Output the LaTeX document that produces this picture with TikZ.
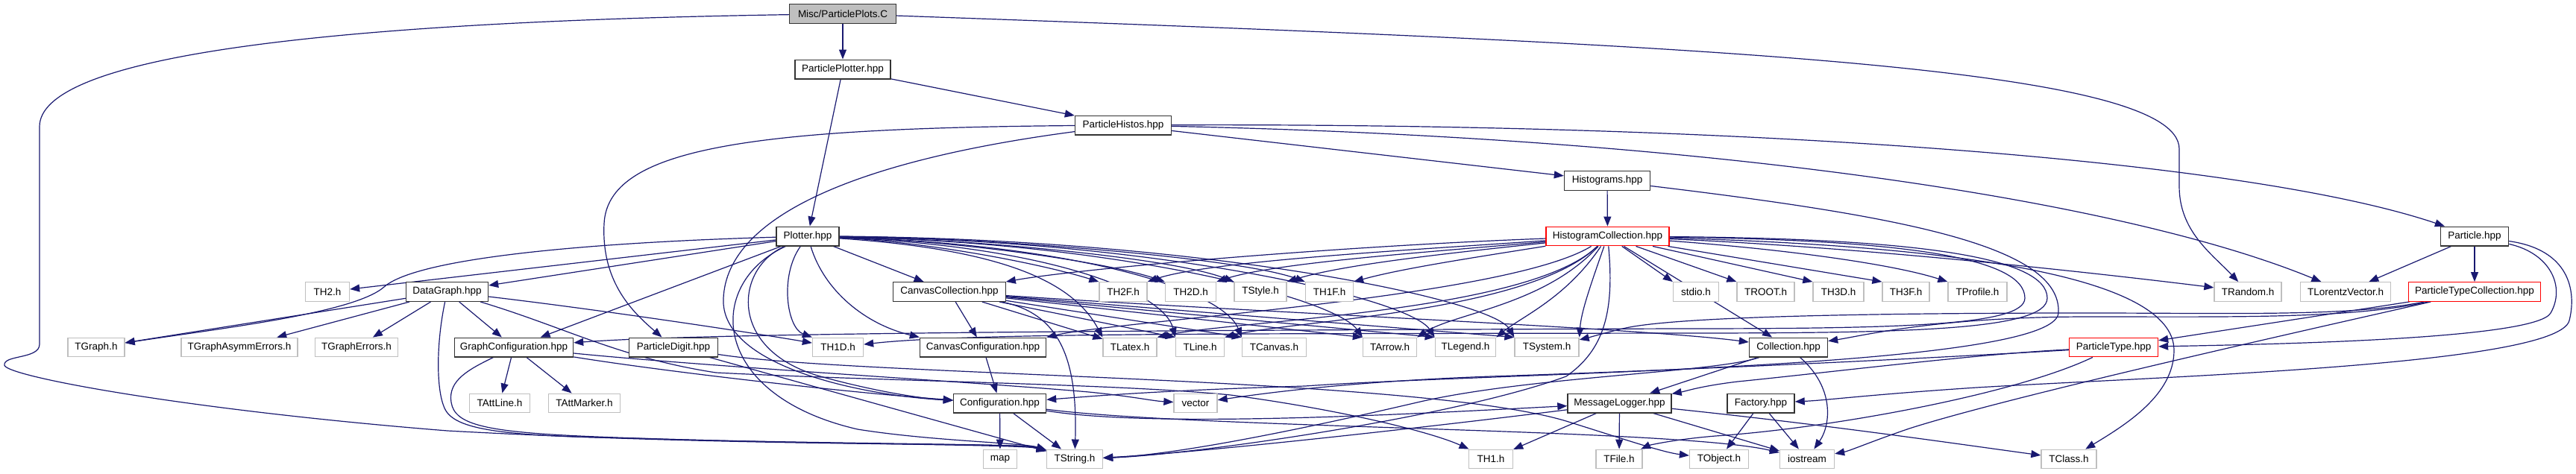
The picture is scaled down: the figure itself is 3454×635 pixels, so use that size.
\documentclass[tikz,border=0pt]{standalone}
\usepackage{fontspec}
\setmainfont{Liberation Sans}
\usetikzlibrary{arrows.meta}
\definecolor{edgeblue}{HTML}{191970}
\definecolor{leafgray}{HTML}{BFBFBF}
\definecolor{rootgray}{HTML}{BFBFBF}
\pgfdeclarelayer{background}
\pgfdeclarelayer{edgelayer}
\pgfsetlayers{background,edgelayer,main}
\tikzset{
  basebox/.style={rectangle, minimum height=25.6pt, inner xsep=3pt, inner ysep=0pt, fill=white, font=\fontsize{13.5}{16}\selectfont, text=black},
  hbox/.style={basebox, draw=black!80, line width=1.4pt},
  leaf/.style={basebox, draw=leafgray, line width=1.3pt},
  redbox/.style={basebox, draw=red, line width=1.3pt},
  rootbox/.style={basebox, draw=black!80, line width=1.4pt, fill=rootgray},
  conn/.style={draw=edgeblue, line width=1.2pt, -{Triangle[length=13pt,width=10pt]}},
}
\begin{document}
\begin{tikzpicture}[x=1pt,y=-1pt]
\useasboundingbox (0,0) rectangle (3454,635);
\begin{pgfonlayer}{background}\fill[white] (0,0) rectangle (3454,635);\end{pgfonlayer}
% rows 0-4
\node[rootbox, minimum width=143pt] (root) at (1130,18.5) {Misc/ParticlePlots.C};
\node[hbox, minimum width=128pt] (pplotter) at (1130,93) {ParticlePlotter.hpp};
\node[hbox, minimum width=129pt] (phistos) at (1506,168) {ParticleHistos.hpp};
\node[hbox, minimum width=115pt] (histograms) at (2155,242.5) {Histograms.hpp};
\node[hbox, minimum width=84pt] (plotter) at (1083,317) {Plotter.hpp};
\node[redbox, minimum width=165pt] (hcoll) at (2155.5,317) {HistogramCollection.hpp};
\node[hbox, minimum width=91pt] (particle) at (3318,317) {Particle.hpp};
% row 5
\node[leaf, minimum width=59pt] (th2) at (439,391.5) {TH2.h};
\node[hbox, minimum width=110pt] (datagraph) at (599.5,391.5) {DataGraph.hpp};
\node[hbox, minimum width=151pt] (ccoll) at (1273,391.5) {CanvasCollection.hpp};
\node[leaf, minimum width=64pt] (th2f) at (1506,391.5) {TH2F.h};
\node[leaf, minimum width=68pt] (th2d) at (1596.5,391.5) {TH2D.h};
\node[leaf, minimum width=70pt] (tstyle) at (1690,391.5) {TStyle.h};
\node[leaf, minimum width=64pt] (th1f) at (1782.5,391.5) {TH1F.h};
\node[leaf, minimum width=61pt] (stdio) at (2274,391.5) {stdio.h};
\node[leaf, minimum width=77pt] (troot) at (2367.5,391.5) {TROOT.h};
\node[leaf, minimum width=68pt] (th3d) at (2465,391.5) {TH3D.h};
\node[leaf, minimum width=63pt] (th3f) at (2555.5,391.5) {TH3F.h};
\node[leaf, minimum width=79pt] (tprofile) at (2651.5,391.5) {TProfile.h};
\node[leaf, minimum width=90pt] (trandom) at (3014,391.5) {TRandom.h};
\node[leaf, minimum width=121pt] (tlv) at (3145,391.5) {TLorentzVector.h};
\node[redbox, minimum width=177pt] (ptc) at (3318,391.5) {ParticleTypeCollection.hpp};
% row 6
\node[leaf, minimum width=76pt] (tgraph) at (129,466) {TGraph.h};
\node[leaf, minimum width=156pt] (tgae) at (321,466) {TGraphAsymmErrors.h};
\node[leaf, minimum width=111pt] (tge) at (478,466) {TGraphErrors.h};
\node[hbox, minimum width=159pt] (gconf) at (689,466) {GraphConfiguration.hpp};
\node[hbox, minimum width=119pt] (pdigit) at (903,466) {ParticleDigit.hpp};
\node[leaf, minimum width=68pt] (th1d) at (1123.5,466) {TH1D.h};
\node[hbox, minimum width=169pt] (cconf) at (1318,466) {CanvasConfiguration.hpp};
\node[leaf, minimum width=72pt] (tlatex) at (1515,466) {TLatex.h};
\node[leaf, minimum width=65pt] (tline) at (1609,466) {TLine.h};
\node[leaf, minimum width=86pt] (tcanvas) at (1708.5,466) {TCanvas.h};
\node[leaf, minimum width=72pt] (tarrow) at (1863.5,466) {TArrow.h};
\node[leaf, minimum width=81.5pt] (tlegend) at (1965,466) {TLegend.h};
\node[leaf, minimum width=86pt] (tsystem) at (2074,466) {TSystem.h};
\node[hbox, minimum width=105pt] (collection) at (2398,466) {Collection.hpp};
\node[redbox, minimum width=119pt] (ptype) at (2834,466) {ParticleType.hpp};
% row 7
\node[leaf, minimum width=81pt] (tattline) at (670,541) {TAttLine.h};
\node[leaf, minimum width=96pt] (tattmarker) at (783.5,541) {TAttMarker.h};
\node[hbox, minimum width=124pt] (config) at (1340.5,541) {Configuration.hpp};
\node[leaf, minimum width=58pt] (vector) at (1603,541) {vector};
\node[hbox, minimum width=139pt] (mlogger) at (2171.5,541) {MessageLogger.hpp};
\node[hbox, minimum width=90pt] (factory) at (2361,541) {Factory.hpp};
% row 8
\node[leaf, minimum width=45.5pt] (map) at (1341,616) {map};
\node[leaf, minimum width=75pt] (tstring) at (1441,616) {TString.h};
\node[leaf, minimum width=59pt] (th1) at (1999,616) {TH1.h};
\node[leaf, minimum width=62pt] (tfile) at (2171,616) {TFile.h};
\node[leaf, minimum width=79pt] (tobject) at (2305,616) {TObject.h};
\node[leaf, minimum width=73pt] (iostream) at (2423,616) {iostream};
\node[leaf, minimum width=74pt] (tclass) at (2774,616) {TClass.h};

\begin{pgfonlayer}{edgelayer}
% root
\draw[conn] (root) -- (pplotter);
\draw[conn] (root) .. controls (400,30) and (53,80) .. (53,170) -- (53,462) .. controls (53,482) and (4,476) .. (6,490) .. controls (8,505) and (250,550) .. (600,578) .. controls (1000,600) and (1372,594) .. (tstring);
\draw[conn] (root) .. controls (2300,60) and (2922,90) .. (2922,200) -- (2922,250) .. controls (2922,310) and (2965,340) .. (trandom);
% ParticlePlotter
\draw[conn] (pplotter) -- (plotter);
\draw[conn] (pplotter) -- (phistos);
% ParticleHistos
\draw[conn] (phistos) -- (histograms);
\draw[conn] (phistos) .. controls (2300,165) and (3000,210) .. (particle);
\draw[conn] (phistos) .. controls (2300,185) and (2850,270) .. (tlv);
\draw[conn] (phistos) .. controls (1000,172) and (815,200) .. (810,300) .. controls (806,380) and (850,420) .. (pdigit);
\draw[conn] (phistos) .. controls (1150,215) and (975,290) .. (970,400) .. controls (965,490) and (1150,530) .. (config);
% Histograms
\draw[conn] (histograms) -- (hcoll);
\draw[conn] (histograms) .. controls (2550,290) and (2765,330) .. (2760,420) .. controls (2755,495) and (2000,500) .. (1750,518) .. controls (1550,524) and (1460,532) .. (config);
% Plotter
\draw[conn] (plotter) -- (th2);
\draw[conn] (plotter) -- (datagraph);
\draw[conn] (plotter) .. controls (800,325) and (560,345) .. (515,385) .. controls (475,420) and (300,440) .. (tgraph);
\draw[conn] (plotter) -- (gconf);
\draw[conn] (plotter) -- (ccoll);
\draw[conn] (plotter) .. controls (1250,325) and (1400,355) .. (th2f.north west);
\draw[conn] (plotter) .. controls (1270,322) and (1480,350) .. (th2d.north west);
\draw[conn] (plotter) .. controls (1290,320) and (1570,345) .. (tstyle.north west);
\draw[conn] (plotter) .. controls (1310,318) and (1660,345) .. (th1f.north west);
\draw[conn] (plotter) .. controls (1045,370) and (1055,440) .. (th1d.north west);
\draw[conn] (plotter) .. controls (1105,390) and (1160,435) .. (cconf.north west);
\draw[conn] (plotter) .. controls (1350,335) and (1440,380) .. (tlatex.north west);
\draw[conn] (plotter) .. controls (1400,330) and (1560,390) .. (tline.north west);
\draw[conn] (plotter) .. controls (1450,328) and (1640,390) .. (tcanvas.north west);
\draw[conn] (plotter) .. controls (1500,325) and (1790,400) .. (tarrow.north west);
\draw[conn] (plotter) .. controls (1550,322) and (1890,400) .. (tlegend.north west);
\draw[conn] (plotter) .. controls (1600,320) and (2000,400) .. (tsystem.north west);
\draw[conn] (plotter) .. controls (985,360) and (975,470) .. (1100,505) .. controls (1180,527) and (1240,535) .. (config);
\draw[conn] (plotter) .. controls (945,380) and (950,530) .. (1150,576) .. controls (1250,592) and (1372,594) .. (tstring);
% DataGraph
\draw[conn] (datagraph) -- (tgraph);
\draw[conn] (datagraph) -- (tgae);
\draw[conn] (datagraph) -- (tge);
\draw[conn] (datagraph) -- (gconf);
\draw[conn] (datagraph) .. controls (800,415) and (1000,445) .. (th1d);
\draw[conn] (datagraph) .. controls (585,460) and (585,520) .. (595,545) .. controls (605,575) and (660,585) .. (850,588) .. controls (1100,596) and (1372,595) .. (tstring);
\draw[conn] (datagraph) .. controls (760,440) and (830,480) .. (960,500) .. controls (1200,512) and (1500,515) .. (1650,530) .. controls (1800,550) and (1920,580) .. (th1);
% GraphConfiguration
\draw[conn] (gconf) -- (tattline);
\draw[conn] (gconf) -- (tattmarker);
\draw[conn] (gconf) .. controls (900,500) and (1150,528) .. (config);
\draw[conn] (gconf) .. controls (950,492) and (1300,512) .. (1460,526) .. controls (1520,532) and (1545,538) .. (vector);
\draw[conn] (gconf) .. controls (630,495) and (600,510) .. (605,540) .. controls (610,570) and (650,580) .. (800,586) .. controls (1050,596) and (1372,596) .. (tstring);
% ParticleDigit
\draw[conn] (pdigit) -- (tstring);
\draw[conn] (pdigit) .. controls (1150,505) and (1900,505) .. (2100,565) .. controls (2180,590) and (2230,607) .. (tobject);
% CanvasCollection
\draw[conn] (ccoll) -- (cconf);
\draw[conn] (ccoll) .. controls (1420,420) and (1445,480) .. (tstring);
\draw[conn] (ccoll) -- (tlatex);
\draw[conn] (ccoll) -- (tline.north west);
\draw[conn] (ccoll) -- (tcanvas.north west);
\draw[conn] (ccoll) -- (tarrow.north west);
\draw[conn] (ccoll) -- (tlegend.north west);
\draw[conn] (ccoll) -- (tsystem.north west);
\draw[conn] (ccoll) .. controls (1700,420) and (2200,440) .. (collection);
% CanvasConfiguration
\draw[conn] (cconf) -- (config);
% Configuration
\draw[conn] (config) -- (map);
\draw[conn] (config) -- (tstring);
\draw[conn] (config) .. controls (1550,575) and (1900,555) .. (mlogger);
\draw[conn] (config) .. controls (1600,575) and (2250,575) .. (iostream);
% HistogramCollection
\draw[conn] (hcoll) .. controls (1800,330) and (1450,360) .. (ccoll);
\draw[conn] (hcoll) .. controls (1900,335) and (1620,350) .. (th2f.north east);
\draw[conn] (hcoll) .. controls (1920,338) and (1710,352) .. (th2d.north east);
\draw[conn] (hcoll) .. controls (1940,340) and (1800,355) .. (tstyle.north east);
\draw[conn] (hcoll) .. controls (1980,345) and (1880,360) .. (th1f.north east);
\draw[conn] (hcoll) -- (stdio.north west);
\draw[conn] (hcoll) -- (troot.north west);
\draw[conn] (hcoll) -- (th3d.north west);
\draw[conn] (hcoll) -- (th3f.north west);
\draw[conn] (hcoll) .. controls (2400,335) and (2540,355) .. (tprofile.north west);
\draw[conn] (hcoll) .. controls (2500,332) and (2800,365) .. (trandom);
\draw[conn] (hcoll) .. controls (2620,330) and (2915,370) .. (2915,470) .. controls (2915,530) and (2850,570) .. (tclass);
\draw[conn] (hcoll) .. controls (2570,320) and (2745,345) .. (2745,400) .. controls (2745,444) and (2550,447) .. (2250,447) .. controls (1700,448) and (1300,446) .. (th1d);
\draw[conn] (hcoll) .. controls (2550,322) and (2715,345) .. (2715,400) .. controls (2715,437) and (2550,441) .. (2250,441) .. controls (1600,443) and (950,446) .. (gconf);
\draw[conn] (hcoll) .. controls (2050,420) and (1650,430) .. (tlatex.north east);
\draw[conn] (hcoll) .. controls (2050,420) and (1730,430) .. (tline.north east);
\draw[conn] (hcoll) .. controls (2070,410) and (1950,420) .. (tarrow.north east);
\draw[conn] (hcoll) .. controls (2100,400) and (2040,425) .. (tlegend.north east);
\draw[conn] (hcoll) .. controls (2130,390) and (2120,420) .. (tsystem.north east);
\draw[conn] (hcoll) .. controls (2020,400) and (1500,430) .. (cconf.north east);
\draw[conn] (hcoll) -- (collection);
\draw[conn] (hcoll) .. controls (2165,420) and (2150,470) .. (2100,505) .. controls (1950,560) and (1600,610) .. (tstring);
% Particle
\draw[conn] (particle) -- (tlv);
\draw[conn] (particle) -- (ptc);
\draw[conn] (particle) .. controls (3420,340) and (3440,385) .. (3420,420) .. controls (3400,455) and (3050,462) .. (ptype);
\draw[conn] (particle) .. controls (3445,335) and (3455,390) .. (3445,430) .. controls (3430,490) and (2900,505) .. (2650,520) .. controls (2500,530) and (2450,537) .. (factory);
% ParticleTypeCollection
\draw[conn] (ptc) -- (ptype);
\draw[conn] (ptc) .. controls (3150,430) and (2700,530) .. (2560,575) .. controls (2510,592) and (2480,605) .. (iostream);
\draw[conn] (ptc) .. controls (3150,428) and (3000,425) .. (2800,425) .. controls (2600,425) and (2500,450) .. (collection);
\draw[conn] (ptc) .. controls (3150,425) and (3000,420) .. (2800,420) .. controls (2500,420) and (2250,425) .. (2180,440) .. controls (2150,447) and (2130,453) .. (tsystem);
% ParticleType
\draw[conn] (ptype) .. controls (2650,475) and (2450,500) .. (2330,512) .. controls (2280,518) and (2260,525) .. (mlogger);
\draw[conn] (ptype) .. controls (2600,480) and (2300,495) .. (2000,505) .. controls (1800,512) and (1680,530) .. (vector);
\draw[conn] (ptype) .. controls (2700,530) and (2450,575) .. (2300,585) .. controls (2240,590) and (2210,598) .. (tfile);
% Collection
\draw[conn] (collection) -- (mlogger);
\draw[conn] (collection) .. controls (2460,520) and (2455,570) .. (iostream);
\draw[conn] (collection) .. controls (2300,500) and (2050,505) .. (1900,540) .. controls (1750,575) and (1580,610) .. (tstring);
% MessageLogger
\draw[conn] (mlogger) -- (th1);
\draw[conn] (mlogger) -- (tfile);
\draw[conn] (mlogger) -- (iostream);
\draw[conn] (mlogger) .. controls (2450,570) and (2620,595) .. (tclass);
\draw[conn] (mlogger) .. controls (1900,575) and (1600,608) .. (tstring);
% Factory
\draw[conn] (factory) -- (tobject);
\draw[conn] (factory) -- (iostream);
\end{pgfonlayer}
\end{tikzpicture}
\end{document}
